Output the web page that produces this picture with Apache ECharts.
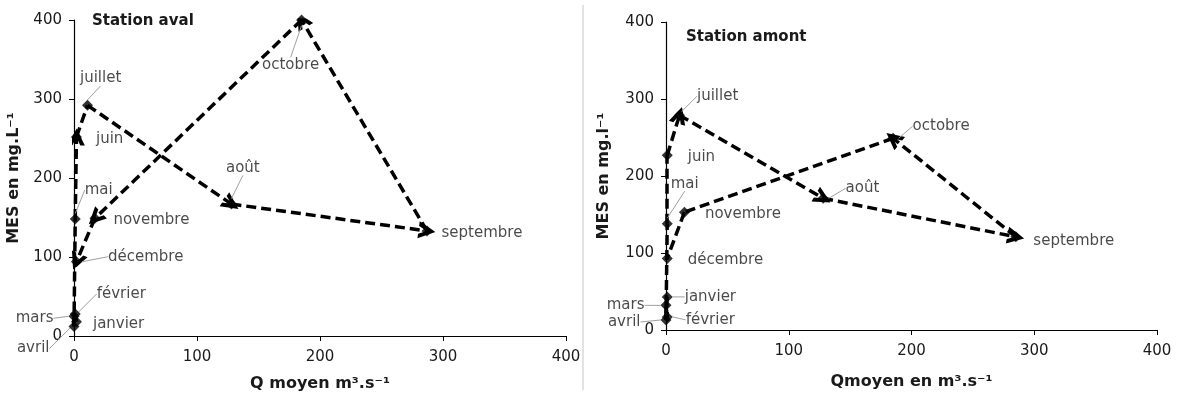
<!DOCTYPE html>
<html>
<head>
<meta charset="utf-8">
<script src="https://cdn.jsdelivr.net/npm/echarts@6/dist/echarts.min.js"></script>
<style>
html,body{margin:0;padding:0;background:#fff;}
#chart{width:1179px;height:394px;}
</style>
</head>
<body>
<div id="chart"></div>
<script>
var months = ['janvier','février','mars','avril','mai','juin','juillet','août','septembre','octobre','novembre','décembre'];
// Station aval
var avalQ   = [2, 1, 0, 0, 1, 2, 11, 128, 287, 185, 17, 2];
var avalMES = [18, 28, 25, 12, 148, 252, 292, 167, 133, 400, 149, 94];
// Station amont
var amontQ   = [1, 1, 0, 0, 1, 1, 11, 128, 285, 185, 15, 1];
var amontMES = [43, 17, 32, 13, 138, 227, 279, 171, 121, 249, 153, 93];
// axes
var xTicks = [0, 100, 200, 300, 400];
var yTicks = [0, 100, 200, 300, 400];

var arrowPath = 'path://M0,9 L5,0 L10,9 L7.3,9 L5,4.6 L2.7,9 Z';
var txt = '#1a1a1a';

// decalage des etiquettes : [dx, dy, cote, trait de rappel]
var avalLbl = [
    [5, 2, 'right', false], [10, -20, 'right', true], [-9, 2, 'left', true], [-13, 22, 'left', true],
    [-2, -29, 'right', true], [8, 2, 'right', false], [-19, -27, 'right', true], [-17, -36, 'right', true],
    [3, 2, 'right', false], [-51, 45, 'right', true], [7, 2, 'right', false], [20, -5, 'right', true]
];
var amontLbl = [
    [6, 0, 'right', true], [7, 3, 'right', true], [-10, 0, 'left', true], [-14, 2, 'left', true],
    [-8, -40, 'right', true], [9, 2, 'right', false], [6, -19, 'right', true], [11, -10, 'right', true],
    [6, 4, 'right', false], [8, -12, 'right', true], [9, 2, 'right', false], [9, 2, 'right', false]
];

function makeParts(idx, Q, MES, lbl, arrowSegs, grid, title, xName, yName, xGap, yGap){
    var pts = [];
    for (var i = 0; i < months.length; i++){
        pts.push({
            value: [Q[i], MES[i]],
            name: months[i],
            label: {position: lbl[i][2]},
            labelLine: {show: lbl[i][3]}
        });
    }
    var plain = [], arrows = [];
    for (var j = 0; j < months.length - 1; j++){
        var seg = {coords: [[Q[j], MES[j]], [Q[j+1], MES[j+1]]]};
        if (arrowSegs.indexOf(j) >= 0){ arrows.push(seg); } else { plain.push(seg); }
    }
    var dash = {color: '#000', width: 3.5, type: [10, 5], opacity: 1};
    return {
        grid: grid,
        title: {
            text: title.text, left: title.left, top: title.top, padding: 0,
            textStyle: {fontFamily: 'DejaVu Sans', fontWeight: 'bold', fontSize: 15, color: txt}
        },
        xAxis: {
            gridIndex: idx, type: 'value',
            min: xTicks[0], max: xTicks[xTicks.length-1], interval: xTicks[1]-xTicks[0],
            name: xName, nameLocation: 'middle', nameGap: xGap,
            nameTextStyle: {fontFamily: 'DejaVu Sans', fontWeight: 'bold', fontSize: 16, color: txt},
            axisLine: {show: true, onZero: false, lineStyle: {color: '#000', width: 1.2}},
            axisTick: {show: true, inside: false, length: 5, lineStyle: {color: '#000'}},
            axisLabel: {margin: 14, fontFamily: 'DejaVu Sans', fontSize: 15, color: txt},
            splitLine: {show: false}
        },
        yAxis: {
            gridIndex: idx, type: 'value',
            min: yTicks[0], max: yTicks[yTicks.length-1], interval: yTicks[1]-yTicks[0],
            name: yName, nameLocation: 'middle', nameGap: yGap, nameRotate: 90,
            nameTextStyle: {fontFamily: 'DejaVu Sans', fontWeight: 'bold', fontSize: 16, color: txt},
            axisLine: {show: true, onZero: false, lineStyle: {color: '#000', width: 1.2}},
            axisTick: {show: true, inside: false, length: 5, lineStyle: {color: '#000'}},
            axisLabel: {margin: 12, fontFamily: 'DejaVu Sans', fontSize: 15, color: txt},
            splitLine: {show: false}
        },
        series: [
            {
                type: 'lines', coordinateSystem: 'cartesian2d', xAxisIndex: idx, yAxisIndex: idx,
                symbol: ['none', 'none'], lineStyle: dash, data: plain, z: 2, silent: true
            },
            {
                type: 'lines', coordinateSystem: 'cartesian2d', xAxisIndex: idx, yAxisIndex: idx,
                symbol: ['none', arrowPath], symbolSize: 17, lineStyle: dash, data: arrows, z: 2, silent: true
            },
            {
                type: 'scatter', xAxisIndex: idx, yAxisIndex: idx,
                symbol: 'diamond', symbolSize: 11,
                itemStyle: {color: '#000'},
                data: pts, z: 3,
                label: {
                    show: true, distance: 6,
                    formatter: '{b}',
                    fontFamily: 'DejaVu Sans', fontSize: 15, color: txt
                },
                labelLine: {lineStyle: {color: '#a0a0a0', width: 1}},
                labelLayout: function (p) {
                    return {dx: lbl[p.dataIndex][0], dy: lbl[p.dataIndex][1]};
                }
            }
        ]
    };
}

var left = makeParts(0, avalQ, avalMES, avalLbl, [4, 6, 7, 8, 9, 10],
    {left: 74, top: 20, width: 492, height: 316, outerBoundsMode: 'none'},
    {text: 'Station aval', left: 92, top: 14},
    'Q moyen m³.s⁻¹', 'MES en mg.L⁻¹', 40, 52);
var right = makeParts(1, amontQ, amontMES, amontLbl, [5, 6, 7, 8],
    {left: 666, top: 22, width: 491, height: 308, outerBoundsMode: 'none'},
    {text: 'Station amont', left: 686, top: 30},
    'Qmoyen en m³.s⁻¹', 'MES en mg.l⁻¹', 44, 54);

var myChart = echarts.init(document.getElementById('chart'));
var option = {
    backgroundColor: '#fff',
    animation: false,
    title: [left.title, right.title],
    grid: [left.grid, right.grid],
    xAxis: [left.xAxis, right.xAxis],
    yAxis: [left.yAxis, right.yAxis],
    series: left.series.concat(right.series),
    graphic: [{
        type: 'line', silent: true,
        shape: {x1: 583, y1: 5, x2: 583, y2: 390},
        style: {stroke: '#d9d9d9', lineWidth: 1.5}
    }]
};
myChart.setOption(option);
</script>
</body>
</html>
